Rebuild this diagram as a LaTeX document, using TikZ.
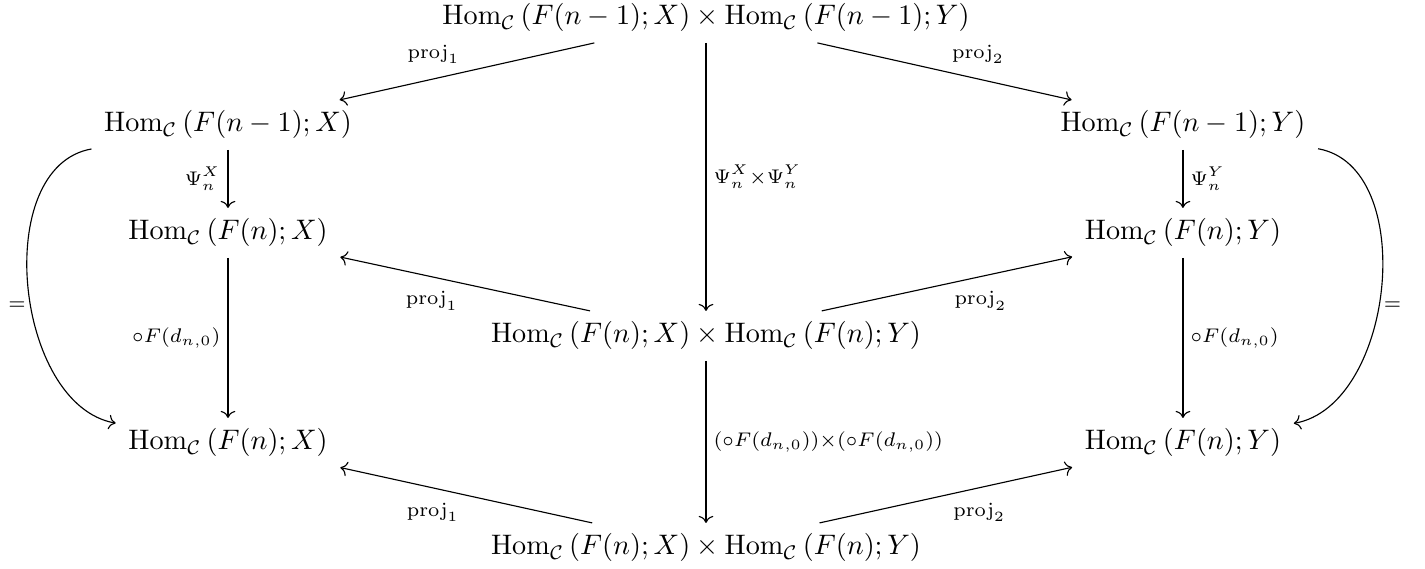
\documentclass[tikz,border=0pt]{standalone}
\usepackage{amsmath}
\usepackage{amssymb}
\usetikzlibrary{arrows.meta}
\newcommand{\homc}[2]{\mathrm{Hom}_{\mathcal{C}}\left(#1;#2\right)}

\begin{document}
\begin{tikzpicture}[
    obj/.style={anchor=base,inner xsep=1ex,inner ysep=0.85ex},
    map/.style={-{Computer Modern Rightarrow}},
    lbl/.style={inner sep=2.5pt,execute at begin node=$\scriptstyle,execute at end node=$}]
  \useasboundingbox (0,0) rectangle (17.75,-7.087);
  % top and middle column
  \node[obj] (top) at (8.794,-0.311) {$\homc{F(n-1)}{X}\times\homc{F(n-1)}{Y}$};
  \node[obj] (mid) at (8.794,-4.272) {$\homc{F(n)}{X}\times\homc{F(n)}{Y}$};
  \node[obj] (bot) at (8.794,-6.913) {$\homc{F(n)}{X}\times\homc{F(n)}{Y}$};
  % left column
  \node[obj] (x1) at (2.840,-1.644) {$\homc{F(n-1)}{X}$};
  \node[obj] (x2) at (2.840,-2.989) {$\homc{F(n)}{X}$};
  \node[obj] (x3) at (2.840,-5.605) {$\homc{F(n)}{X}$};
  % right column
  \node[obj] (y1) at (14.735,-1.644) {$\homc{F(n-1)}{Y}$};
  \node[obj] (y2) at (14.735,-2.989) {$\homc{F(n)}{Y}$};
  \node[obj] (y3) at (14.735,-5.605) {$\homc{F(n)}{Y}$};

  \draw[map] (top) -- node[lbl,above left] {\mathrm{proj}_1} (x1);
  \draw[map] (top) -- node[lbl,above right] {\mathrm{proj}_2} (y1);
  \draw[map] (top) -- node[lbl,right] {\Psi_n^X\times\Psi_n^Y} (mid);
  \draw[map] (x1) -- node[lbl,left] {\Psi_n^X} (x2);
  \draw[map] (y1) -- node[lbl,right] {\Psi_n^Y} (y2);
  \draw[map] (mid) -- node[lbl,below left] {\mathrm{proj}_1} (x2);
  \draw[map] (mid) -- node[lbl,below right] {\mathrm{proj}_2} (y2);
  \draw[map] (x2) -- node[lbl,left] {\circ F(d_{n,0})} (x3);
  \draw[map] (y2) -- node[lbl,right] {\circ F(d_{n,0})} (y3);
  \draw[map] (mid) -- node[lbl,right] {(\circ F(d_{n,0}))\times(\circ F(d_{n,0}))} (bot);
  \draw[map] (bot) -- node[lbl,below left] {\mathrm{proj}_1} (x3);
  \draw[map] (bot) -- node[lbl,below right] {\mathrm{proj}_2} (y3);
  % identities
  \draw[map] (x1) to[out=190,in=170,looseness=0.95] node[lbl,left,pos=0.55,inner sep=1.5pt] {=} (x3);
  \draw[map] (y1) to[out=-10,in=10,looseness=0.95] node[lbl,right,pos=0.55,inner sep=1.5pt] {=} (y3);
\end{tikzpicture}
\end{document}
